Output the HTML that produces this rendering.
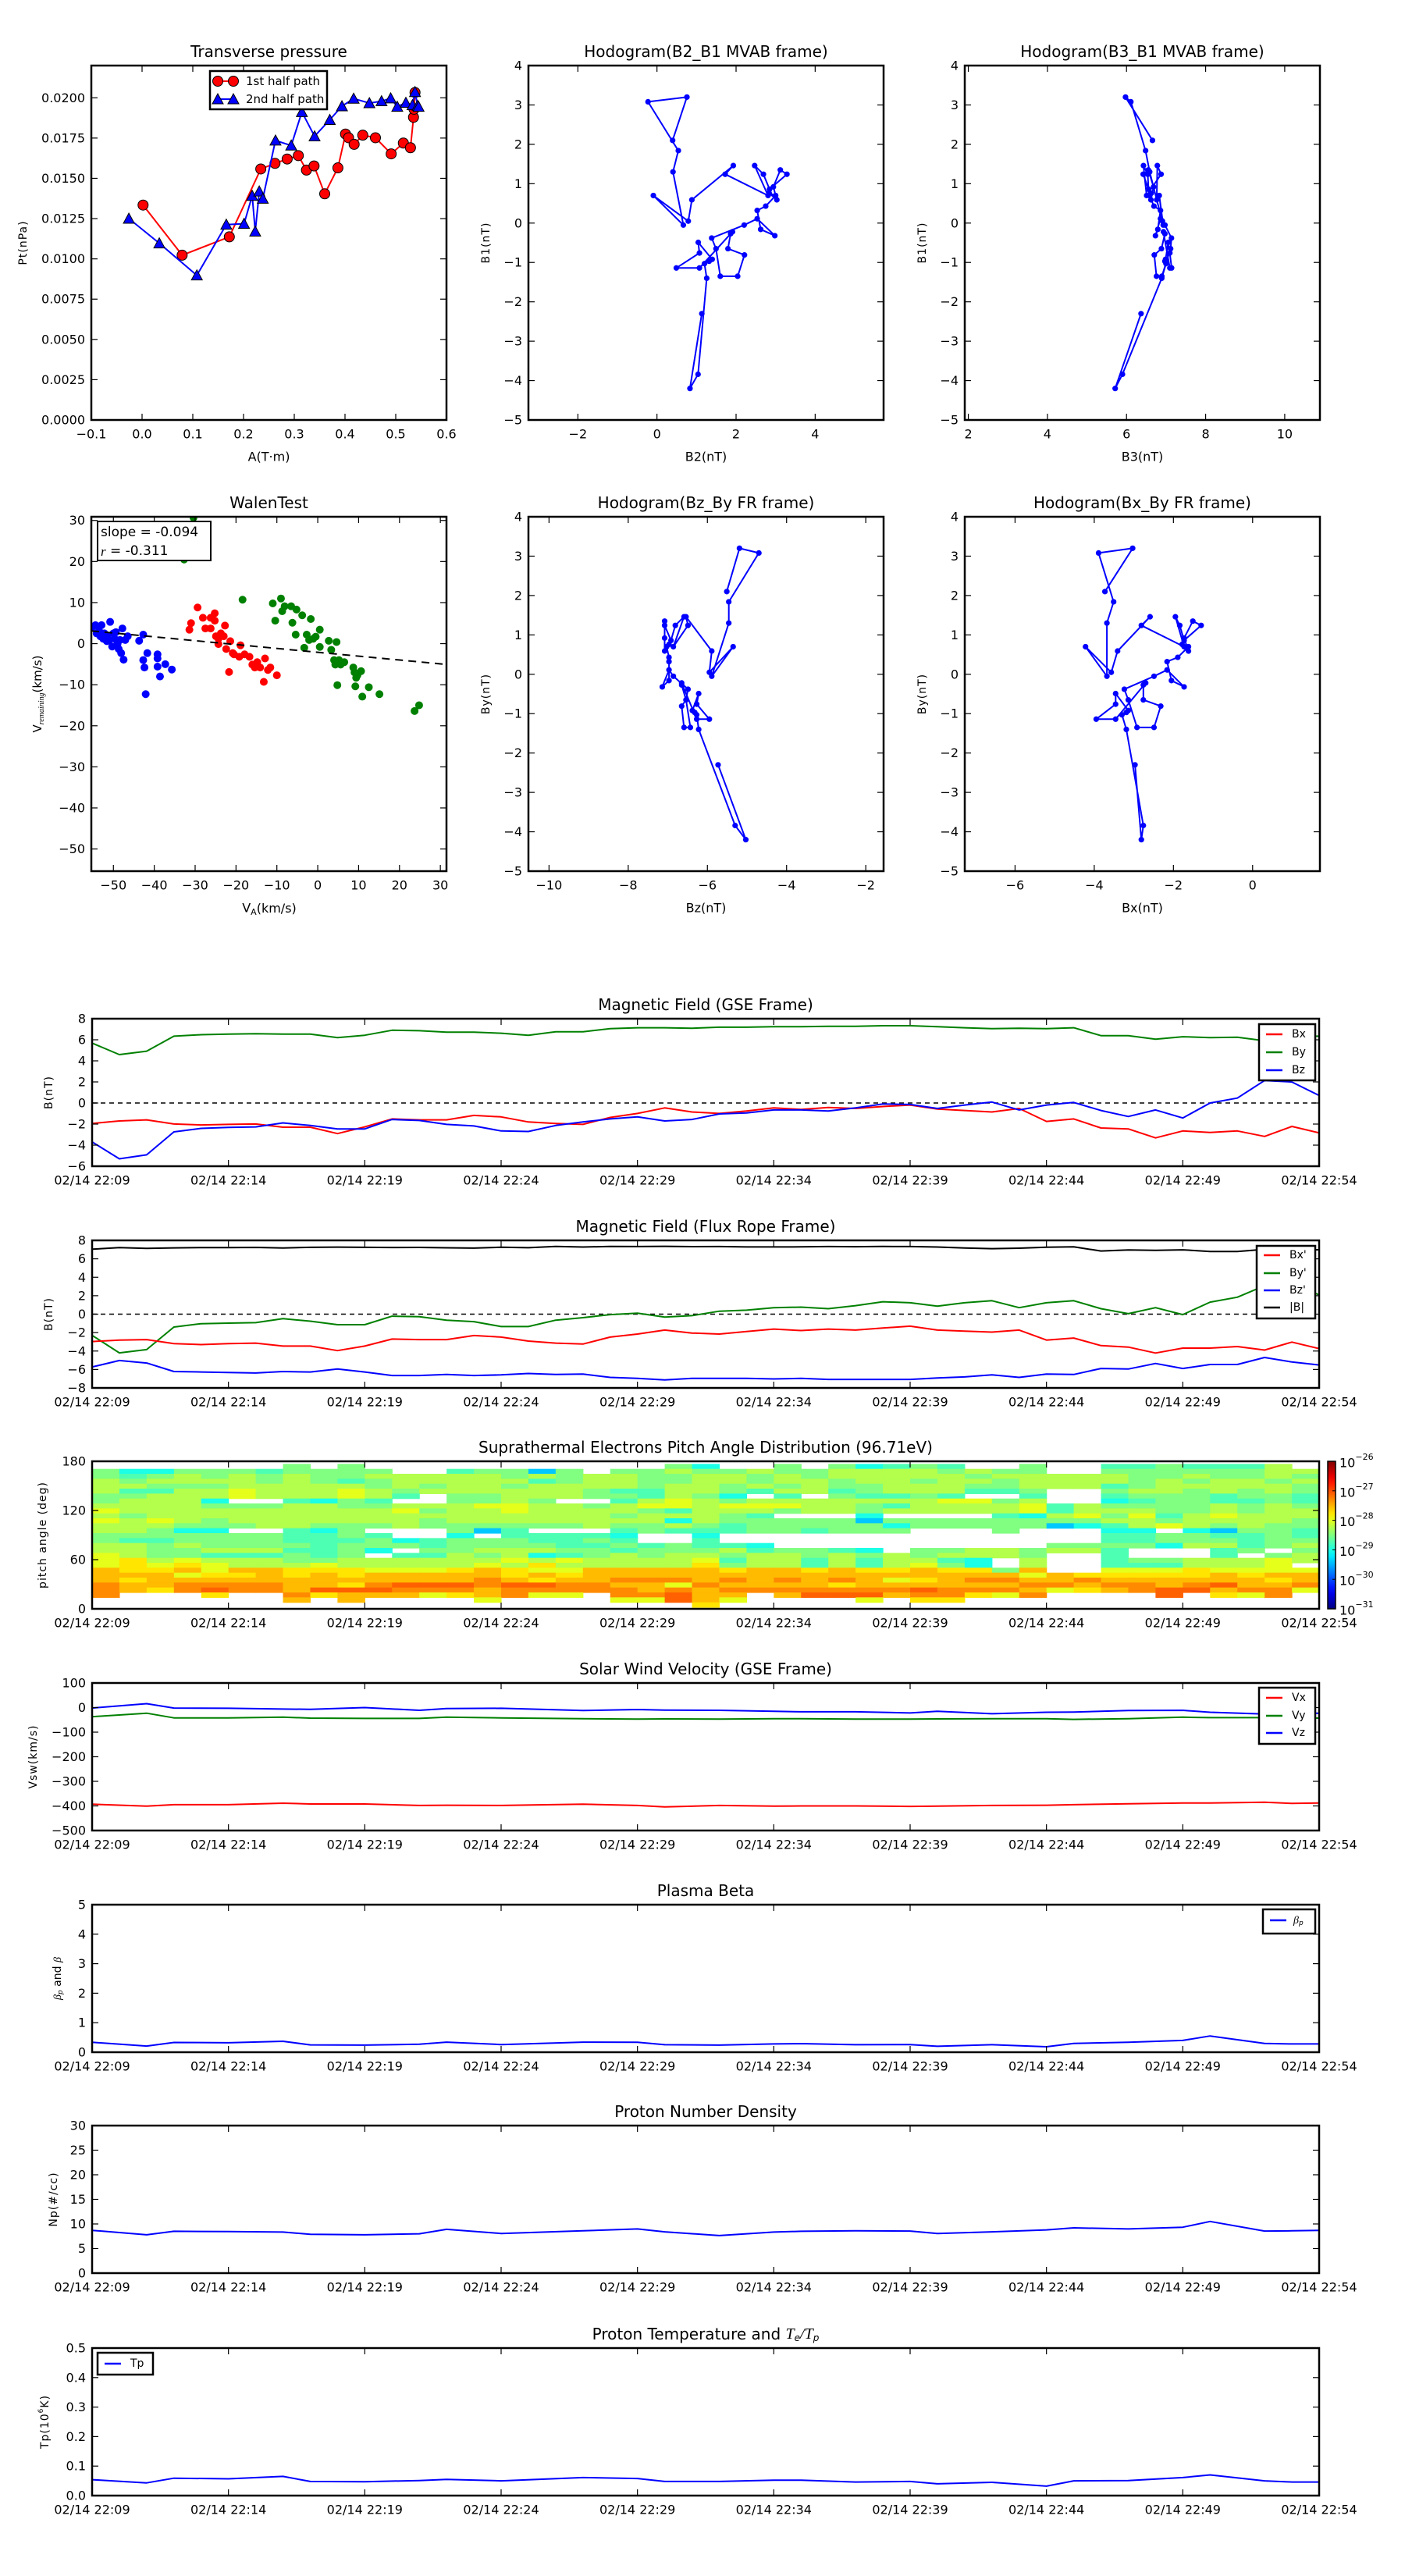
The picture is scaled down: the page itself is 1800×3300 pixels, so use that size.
<!DOCTYPE html>
<html><head><meta charset="utf-8">
<style>
html,body{margin:0;padding:0;background:#fff;}
svg{display:block;font-family:"DejaVu Sans","Liberation Sans",sans-serif;}
</style></head>
<body>
<svg id="fig" width="1800" height="3300" viewBox="0 0 1800 3300"><rect width="1800" height="3300" fill="#fff"/></svg>
<script>
// ---------- DATA ----------
// Transverse pressure
const tpRedA=[0.002,0.079,0.172,0.234,0.262,0.286,0.308,0.324,0.339,0.360,0.386,0.401,0.407,0.418,0.435,0.460,0.491,0.515,0.529,0.535,0.536,0.538];
const tpRedP=[0.01334,0.01023,0.01137,0.01558,0.01593,0.0162,0.01641,0.01551,0.01577,0.01404,0.01565,0.01775,0.01752,0.01711,0.01768,0.01752,0.01652,0.01719,0.0169,0.01879,0.01929,0.02033];
const tpBlueA=[-0.026,0.034,0.108,0.166,0.201,0.217,0.223,0.231,0.238,0.263,0.294,0.315,0.340,0.370,0.394,0.417,0.448,0.472,0.490,0.503,0.520,0.533,0.538,0.543,0.545];
const tpBlueP=[0.0125,0.01097,0.00898,0.01213,0.01218,0.01392,0.0117,0.01419,0.01374,0.01735,0.01704,0.01912,0.01761,0.01863,0.01948,0.01995,0.01967,0.01979,0.01997,0.01945,0.01969,0.01955,0.02036,0.01951,0.01945];
// GSE magnetic field, 1-min samples from 22:09
const gseBx=[-1.94,-1.7,-1.6,-1.99,-2.08,-2.03,-1.99,-2.3,-2.3,-2.9,-2.27,-1.51,-1.6,-1.6,-1.18,-1.32,-1.8,-1.94,-2.03,-1.37,-0.99,-0.47,-0.85,-0.99,-0.76,-0.47,-0.61,-0.43,-0.52,-0.33,-0.19,-0.57,-0.71,-0.85,-0.52,-1.75,-1.51,-2.37,-2.46,-3.31,-2.65,-2.79,-2.65,-3.17,-2.22,-2.84];
const gseBy=[5.68,4.59,4.92,6.34,6.48,6.53,6.58,6.53,6.53,6.2,6.43,6.9,6.86,6.72,6.72,6.62,6.43,6.76,6.76,7.05,7.14,7.14,7.1,7.19,7.19,7.24,7.24,7.28,7.28,7.33,7.33,7.24,7.14,7.05,7.1,7.05,7.14,6.39,6.39,6.05,6.29,6.2,6.24,5.9,6.3,6.34];
const gseBz=[-3.69,-5.3,-4.92,-2.74,-2.41,-2.32,-2.27,-1.89,-2.13,-2.46,-2.46,-1.56,-1.66,-2.03,-2.18,-2.65,-2.7,-2.13,-1.8,-1.51,-1.32,-1.7,-1.56,-1.04,-0.95,-0.66,-0.66,-0.76,-0.47,-0.09,-0.14,-0.52,-0.19,0.09,-0.66,-0.19,0.05,-0.71,-1.28,-0.66,-1.42,0,0.47,2.13,1.99,0.71];
// Flux rope frame
const frBx=[-2.97,-2.81,-2.76,-3.19,-3.3,-3.19,-3.14,-3.46,-3.46,-3.95,-3.46,-2.7,-2.76,-2.76,-2.32,-2.49,-2.92,-3.14,-3.24,-2.49,-2.16,-1.73,-2.05,-2.16,-1.89,-1.62,-1.78,-1.62,-1.73,-1.51,-1.3,-1.73,-1.84,-1.95,-1.73,-2.81,-2.59,-3.41,-3.57,-4.22,-3.68,-3.68,-3.51,-3.89,-3.03,-3.73];
const frBy=[-2.3,-4.2,-3.84,-1.4,-1.03,-0.97,-0.92,-0.49,-0.76,-1.14,-1.14,-0.22,-0.27,-0.65,-0.81,-1.35,-1.35,-0.65,-0.38,-0.05,0.11,-0.32,-0.16,0.32,0.43,0.7,0.76,0.59,0.92,1.35,1.24,0.86,1.24,1.46,0.7,1.24,1.46,0.59,0.05,0.7,-0.05,1.3,1.84,3.08,3.2,2.1];
const frBz=[-5.73,-5.03,-5.3,-6.22,-6.27,-6.32,-6.38,-6.22,-6.27,-5.95,-6.27,-6.65,-6.65,-6.54,-6.65,-6.59,-6.43,-6.54,-6.49,-6.86,-6.97,-7.14,-6.97,-6.97,-6.97,-7.03,-6.97,-7.08,-7.08,-7.08,-7.08,-6.92,-6.81,-6.59,-6.86,-6.49,-6.54,-5.89,-5.95,-5.35,-5.89,-5.46,-5.46,-4.7,-5.19,-5.51];
// MVAB rotation (B1 = By', (B2,B3) rotated from (Bx',Bz'))
const mvaCos=0.795, mvaSin=0.61;
// Walen test
const walBlueVA=[-54.4,-52.9,-55.1,-50.8,-53.5,-52.2,-51.6,-52.5,-51.0,-49.7,-50.3,-49.0,-47.8,-46.5,-47.1,-48.7,-48.1,-47.5,-43.7,-42.7,-41.7,-39.2,-42.7,-39.2,-42.4,-39.2,-37.3,-35.7,-38.6,-42.1,-54.1,-53.2,-51.6,-49.4,-48.4,-50.0];
const walBlueVR=[4.5,4.5,4.1,5.3,3.1,2.5,1.8,1.2,0.9,1.2,-0.7,-0.1,3.7,1.8,0.9,-1.3,-2.3,-3.9,0.7,2.2,-2.3,-2.6,-4.0,-3.6,-5.8,-5.6,-5.0,-6.3,-8.0,-12.3,2.5,1.8,0.6,2.8,0.9,2.5];
const walRedVA=[-29.4,-31.0,-31.4,-28.1,-26.2,-25.2,-25.2,-27.5,-26.2,-22.7,-24.9,-23.7,-23.0,-24.3,-21.4,-22.4,-18.9,-20.8,-19.2,-17.9,-16.7,-16.0,-14.8,-12.9,-14.1,-12.2,-11.6,-10.0,-21.7,-13.2,-24.3,-15.4,-20.5];
const walRedVR=[8.8,5.0,3.4,6.3,6.3,7.4,5.6,3.7,3.7,4.4,1.8,2.5,1.8,-0.1,0.6,-1.3,-0.4,-2.3,-3.2,-2.6,-3.2,-5.1,-4.5,-3.6,-5.8,-6.4,-5.8,-7.7,-6.9,-9.3,1.2,-5.8,-2.6];
const walGreenVA=[-30.4,-32.7,-18.4,-11.0,-9.0,-8.1,-6.5,-5.2,-8.7,-3.8,-1.7,-10.4,-6.2,0.5,-5.4,-2.7,-1.1,-0.5,-2.1,-3.3,0.5,2.7,4.6,3.3,4.0,5.2,6.5,4.3,5.6,8.7,10.6,9.0,9.4,9.7,4.8,9.2,12.5,10.9,15.1,24.8,23.7];
const walGreenVR=[30.7,20.5,10.7,9.8,11.0,9.1,9.1,8.3,7.9,6.9,6.0,5.6,5.1,3.4,2.2,2.2,1.2,1.7,0.9,-1.0,-0.8,0.7,0.4,-1.5,-4.0,-4.0,-4.5,-5.1,-5.1,-5.8,-6.7,-7.0,-8.3,-7.7,-10.1,-10.4,-10.6,-12.9,-12.3,-15.0,-16.4];
const walSlope=-0.094, walIntercept=-2.1, walR=-0.311;
// Time axis
const timeTickMinutes=[0,5,10,15,20,25,30,35,40,45];
const timeTickLabels=['02/14 22:09','02/14 22:14','02/14 22:19','02/14 22:24','02/14 22:29','02/14 22:34','02/14 22:39','02/14 22:44','02/14 22:49','02/14 22:54'];
// Plasma samples (minutes after 22:09)
const plasmaT=[0,2,3,5,7,8,10,12,13,15,18,20,21,23,25,26,28,30,31,33,35,36,38,40,41,43,44,45];
const swVx=[-393,-401,-395,-395,-389,-392,-392,-398,-397,-398,-393,-398,-404,-398,-401,-400,-400,-402,-401,-398,-397,-395,-391,-388,-388,-385,-390,-388];
const swVy=[-37,-23,-42,-42,-39,-43,-44,-44,-39,-42,-45,-47,-46,-47,-45,-45,-47,-47,-46,-45,-45,-48,-45,-39,-41,-41,-41,-43];
const swVz=[-2,16,-2,-3,-6,-7,0,-11,-4,-3,-12,-8,-10,-11,-15,-17,-17,-22,-15,-25,-19,-18,-12,-11,-19,-26,-23,-23];
const betaP=[0.335,0.21,0.33,0.32,0.37,0.25,0.24,0.27,0.34,0.26,0.34,0.335,0.255,0.24,0.28,0.29,0.255,0.26,0.2,0.255,0.185,0.3,0.335,0.4,0.55,0.3,0.28,0.28];
const protonN=[8.7,7.8,8.5,8.45,8.35,7.9,7.8,8.0,8.9,8.07,8.6,8.99,8.4,7.64,8.35,8.5,8.6,8.56,8.07,8.4,8.8,9.2,8.99,9.34,10.5,8.56,8.6,8.7];
const protonT=[0.054,0.043,0.059,0.057,0.065,0.048,0.047,0.051,0.055,0.05,0.061,0.058,0.048,0.048,0.052,0.052,0.046,0.048,0.04,0.045,0.032,0.05,0.051,0.061,0.07,0.05,0.046,0.046];
// Pitch angle distribution (log10 flux codes, one char per minute column, rows from high to low pitch angle)
const padTop=176.8, padBottom=1.9;
const padLevels={B:-29.4,C:-29.0,A:-28.75,G:-28.5,L:-28.25,K:-28.0,Y:-27.75,O:-27.54,R:-27.3,D:-27.1};
const padRows=[
"WWWWWWWGWGWWWWWWWWWWWGCWWGWGCAGAWWGWWAAGAAALW",
"GCCGGGAGGGGWWAGGBGWGGLGGLGGLLLLGLGGWWGGGGGGLL",
"GAGLGLGLGGLLLLLGLGLLGGLLGLGLLLLLGLLLLLGGLGGLG",
"LGLLLLGLGAGLLLLLAGLLGGLLGLLGLLGLLGLLLLGLGLLGL",
"LLGGGLLLLLGLGLLGLLLLGLLGLGLGGLLLGGLLLAGLLLLLG",
"LAALLKLLLKLGLLLLLLGAALLGALLAGLLLAAGWWGLLGLGLG",
"GGLLLKLLLKLAWGGLLLGGALGCWAWGAAGAWWAWWAGGGAGGA",
"GLLLCWWACGAWWGGLGWWALKLGLLLLLLLKKGLWWCAGGAAGA",
"LLLLGGGLLGGLLLKKLLGLKKLKKKLLGALLLLKALGGGGLGLG",
"KLLLLLLLLLLKGLLKLLLLGALLLGLLGLLLLLKALLLGGLGLL",
"LGLLLLLLLLLLLLLLLLLGLLLGAWWWCWWWWACLKGKALKLLL",
"KLKLGLLLLLLLGLLLLLLLLCLGGGGGBGGGGGGGGLLGLLLLG",
"LLLGGGLLGGGLGGGGGGLGGLGAGGGGGCGGGGGBCALKLGLGG",
"LLGCCWWACGWWWGBAWWWAGAAAGGAGGGWWWGWWWCCWCBGGA",
"GGGGGGGAAGAWWCWAAAACWWCWWWWWWWWWWWWWWAAGGAAGA",
"GAAGGGGAAAGCAGGGAAGAWWAWWWWWWWWWWWWWWAAGGGAGG",
"LLGLGGGGAGGGAGGGGAAGAGAACWWWWWWWWWWGGGGCLLAGL",
"LLGGLLLAAGCWGGLLLGGAGGGLAGGACWGGLLGLLAWWWAGWG",
"KLGGAAAGAGWAALGLCAGLGLLGLLGLGLGLLLGWWAWWWAWGL",
"KYLKLLLGGLLLLLLKLKLLLLKALLALALLACWLWWAGGLLLKL",
"KYKYKLLLKLLLLLKLYLLLLLYGLLALALKGCWLWWAAALLLKW",
"OYYOKOOYYYKKKYOYKKOOOOOYOOYOYYOYYGOWWKKKYKKKK",
"OOOKYYOYOYOOOOOYOYOOOOOOOOOOOOOOOOKOYYYYYOYOO",
"OYOOOOOOOOOOOOROYOORRROROROROKYORROOROOOOOOYO",
"ROORRRROOYRDDDRDDRROOKROOOOYOOOOOORRORRORDOOR",
"ROYRDRRODDDRRRORRRRRORORRRRRRRDRRROKYORDDORRK",
"RWWWYWWRYOOOKYORKKWRRDOOWODDDORRYKRWWWWDWYKRW",
"WWWWWWWOWOWWWWKWWWWKKDOKWWWWKWYYWWWWWWWWWWWWW",
"WWWWWWWWWWWWWWWWWWWWWWYWWWWWWWWWWWWWWWWWWWWWW"];
const cbarTicks=[-31,-30,-29,-28,-27,-26];

// ---------- HELPERS ----------
const NS='http://www.w3.org/2000/svg';
const fig=document.getElementById('fig');
function mk(tag,attrs,parent){const e=document.createElementNS(NS,tag);for(const k in attrs)e.setAttribute(k,attrs[k]);(parent||fig).appendChild(e);return e;}
function txt(parent,x,y,s,size,anchor,extra){const t=mk('text',Object.assign({x:x,y:y,'font-size':size,'text-anchor':anchor||'middle','dominant-baseline':'central',fill:'#000'},extra||{}),parent);t.textContent=s;return t;}
function fmt(v,d){return (v<0?'\u2212':'')+Math.abs(v).toFixed(d);}
function jet(f){const c=x=>Math.max(0,Math.min(1,x));const r=c(1.5-Math.abs(4*f-3)),g=c(1.5-Math.abs(4*f-2)),b=c(1.5-Math.abs(4*f-1));return 'rgb('+Math.round(r*255)+','+Math.round(g*255)+','+Math.round(b*255)+')';}
function makePanel(name,x0,y0,w,h,xr,yr){
  const g=mk('g',{});
  
  
  const cid='clip-'+name;
  const cp=mk('clipPath',{id:cid},g);
  mk('rect',{x:x0,y:y0,width:w,height:h},cp);
  const plot=mk('g',{'clip-path':'url(#'+cid+')'},g);
  
  
  return {name:name,g:g,plot:plot,x0:x0,y0:y0,w:w,h:h,
    sx:v=>x0+(v-xr[0])/(xr[1]-xr[0])*w, sy:v=>y0+h-(v-yr[0])/(yr[1]-yr[0])*h};
}
function frame(p){const r=mk('rect',{x:p.x0,y:p.y0,width:p.w,height:p.h,fill:'none',stroke:'#000','stroke-width':2.5},p.g);
  
  }
function xTicks(p,vals,labels){const tg=mk('g',{},p.g);
  
  
  vals.forEach((v,i)=>{const x=p.sx(v);
    mk('line',{x1:x,x2:x,y1:p.y0+p.h,y2:p.y0+p.h-8,stroke:'#000','stroke-width':1.2},tg);
    mk('line',{x1:x,x2:x,y1:p.y0,y2:p.y0+8,stroke:'#000','stroke-width':1.2},tg);
    const t=txt(tg,x,p.y0+p.h+18,labels[i],16);
    
    });}
function yTicks(p,vals,labels){const tg=mk('g',{},p.g);
  
  
  vals.forEach((v,i)=>{const y=p.sy(v);
    mk('line',{x1:p.x0,x2:p.x0+8,y1:y,y2:y,stroke:'#000','stroke-width':1.2},tg);
    mk('line',{x1:p.x0+p.w,x2:p.x0+p.w-8,y1:y,y2:y,stroke:'#000','stroke-width':1.2},tg);
    const t=txt(tg,p.x0-8,y,labels[i],16,'end');
    
    });}
function line(p,xs,ys,color,w,name,dash){const pts=xs.map((x,i)=>p.sx(x).toFixed(1)+','+p.sy(ys[i]).toFixed(1)).join(' ');
  const a={points:pts,fill:'none',stroke:color,'stroke-width':w,'stroke-linejoin':'round'};if(dash)a['stroke-dasharray']=dash;
  const l=mk('polyline',a,p.plot);
  
  return l;}
function dots(p,xs,ys,color,r,name,stroke){const g=mk('g',{},p.plot);
  
  
  xs.forEach((x,i)=>{const c=mk('circle',{cx:p.sx(x),cy:p.sy(ys[i]),r:r,fill:color,stroke:stroke||'none','stroke-width':1},g);
    
    });}
function tri(parent,x,y,s,color){return mk('polygon',{points:x+','+(y-s)+' '+(x-s)+','+(y+s*0.85)+' '+(x+s)+','+(y+s*0.85),fill:color,stroke:'#000','stroke-width':1},parent);}
function title(p,s,extraNodes){const t=txt(p.g,p.x0+p.w/2,p.y0-18,s,20);
  
  return t;}
function xlabel(p,s,y){const t=txt(p.g,p.x0+p.w/2,y,s,16);
  
  return t;}
function ylabel(p,s,x,size){const cy=p.y0+p.h/2;const t=txt(p.g,x,cy,s,size||14,'middle',{transform:'rotate(-90 '+x+' '+cy+')','letter-spacing':'1'});
  
  return t;}
function legend(p,x,y,w,h,entries){const g=mk('g',{},p.g);
  
  
  mk('rect',{x:x,y:y,width:w,height:h,fill:'#fff',stroke:'#000','stroke-width':2.5},g);
  entries.forEach(e=>{mk('line',{x1:x+9,x2:x+30,y1:e.y,y2:e.y,stroke:e.c,'stroke-width':2.5},g);
    const t=txt(g,x+42,e.y,e.s,14,'start');
    
    });return g;}
function range(a,b,s){const r=[];for(let v=a;v<=b+1e-9;v+=s)r.push(+v.toFixed(6));return r;}
const idx=gseBx.map((_,i)=>i);

// ---------- TOP ROW ----------
const W=455,TH=454;
// Transverse pressure
(function(){
  const p=makePanel('transverse-pressure',117,84,W,TH,[-0.1,0.6],[0,0.022]);
  line(p,tpRedA,tpRedP,'#f00',2,'first-half-line');
  dots(p,tpRedA,tpRedP,'#f00',6.5,'first-half',"#000");
  line(p,tpBlueA,tpBlueP,'#00f',2,'second-half-line');
  const tg=mk('g',{},p.plot);
  
  
  tpBlueA.forEach((a,i)=>{const m=tri(tg,p.sx(a),p.sy(tpBlueP[i]),7,'#00f');
    
    });
  frame(p);
  const xv=range(-0.1,0.6,0.1);xTicks(p,xv,xv.map(v=>fmt(v,1)));
  const yv=range(0,0.02,0.0025);yTicks(p,yv,yv.map(v=>v.toFixed(4)));
  title(p,'Transverse pressure');xlabel(p,'A(T\u00b7m)',585);ylabel(p,'Pt(nPa)',30);
  const lg=mk('g',{},p.g);
  
  
  mk('rect',{x:269,y:91,width:150,height:49,fill:'#fff',stroke:'#000','stroke-width':2.5},lg);
  mk('line',{x1:279,x2:299,y1:104,y2:104,stroke:'#f00','stroke-width':2},lg);
  mk('circle',{cx:279,cy:104,r:6.5,fill:'#f00',stroke:'#000'},lg);mk('circle',{cx:299,cy:104,r:6.5,fill:'#f00',stroke:'#000'},lg);
  mk('line',{x1:279,x2:299,y1:127,y2:127,stroke:'#00f','stroke-width':2},lg);
  tri(lg,279,127,7,'#00f');tri(lg,299,127,7,'#00f');
  const l1=txt(lg,315,104,'1st half path',15,'start');
  
  
  const l2=txt(lg,315,127,'2nd half path',15,'start');
  
  
})();
const mvaB1=frBy.slice();
const mvaB2=frBx.map((x,i)=>mvaCos*x-mvaSin*frBz[i]);
const mvaB3=frBx.map((x,i)=>-mvaSin*x-mvaCos*frBz[i]);
function hodo(name,x0,y0,xr,xs,ys,ttl,xl,yl,xtv,labelY){
  const p=makePanel(name,x0,y0,W,TH,xr,[-5,4]);
  line(p,xs,ys,'#00f',2,name+'-path');
  dots(p,xs,ys,'#00f',3.6,name+'-samples');
  frame(p);
  xTicks(p,xtv,xtv.map(v=>fmt(v,0)));
  const yv=range(-5,4,1);yTicks(p,yv,yv.map(v=>fmt(v,0)));
  title(p,ttl);xlabel(p,xl,labelY);ylabel(p,yl,x0-54);
}
hodo('hodogram-b2-b1',677,84,[-3.25,5.73],mvaB2,mvaB1,'Hodogram(B2_B1 MVAB frame)','B2(nT)','B1(nT)',[-2,0,2,4],585);
hodo('hodogram-b3-b1',1236,84,[1.91,10.89],mvaB3,mvaB1,'Hodogram(B3_B1 MVAB frame)','B3(nT)','B1(nT)',[2,4,6,8,10],585);
hodo('hodogram-bz-by',677,662,[-10.52,-1.55],frBz,frBy,'Hodogram(Bz_By FR frame)','Bz(nT)','By(nT)',[-10,-8,-6,-4,-2],1163);
hodo('hodogram-bx-by',1236,662,[-7.27,1.7],frBx,frBy,'Hodogram(Bx_By FR frame)','Bx(nT)','By(nT)',[-6,-4,-2,0],1163);

// Walen test
(function(){
  const p=makePanel('walen-test',117,662,W,TH+0,[-55.4,31.5],[-55.4,30.9]);
  dots(p,walBlueVA,walBlueVR,'#00f',5,'walen-blue');
  dots(p,walRedVA,walRedVR,'#f00',5,'walen-red');
  dots(p,walGreenVA,walGreenVR,'#008000',5,'walen-green');
  const fx=[-55.4,31.5];
  line(p,fx,fx.map(v=>walSlope*v+walIntercept),'#000',2,'walen-fit-line','10,7');
  frame(p);
  const xv=range(-50,30,10);xTicks(p,xv,xv.map(v=>fmt(v,0)));
  const yv=range(-50,30,10);yTicks(p,yv,yv.map(v=>fmt(v,0)));
  title(p,'WalenTest');
  const xl=txt(p.g,345,1163,'',16);
  
  
  xl.innerHTML='V<tspan font-size="11" dy="5">A</tspan><tspan dy="-5">(km/s)</tspan>';
  const yl=txt(p.g,48,889,'',15,'middle',{transform:'rotate(-90 48 889)'});
  
  
  yl.innerHTML='V<tspan font-size="10" font-style="italic" font-family="Liberation Serif,serif" dy="5">remaining</tspan><tspan dy="-5">(km/s)</tspan>';
  const bx=mk('g',{},p.g);
  
  
  mk('rect',{x:125,y:668,width:145,height:50,fill:'#fff',stroke:'#000','stroke-width':2},bx);
  txt(bx,129,682,'slope = '+walSlope.toFixed(3),17,'start');
  const rt=txt(bx,129,706,'',17,'start');
  rt.innerHTML='<tspan font-style="italic" font-family="Liberation Serif,serif">r</tspan> = '+walR.toFixed(3);
})();

// ---------- TIME SERIES ----------
const TX=118,TW=1572,TSH=189;
const tops=[1305,1589,1872,2156,2440,2723,3008];
function tsPanel(name,k,yr){return makePanel(name,TX,tops[k],TW,TSH,[0,45],yr);}
function tsAxes(p,yv,yl){frame(p);xTicks(p,timeTickMinutes,timeTickLabels);yTicks(p,yv,yl);}
function zeroLine(p){line(p,[0,45],[0,0],'#000',1.5,p.name+'-zero-line','6,5');}

// GSE
(function(){const p=tsPanel('magnetic-field-gse',0,[-6,8]);
  zeroLine(p);
  line(p,idx,gseBy,'#008000',2,'gse-by-line');
  line(p,idx,gseBx,'#f00',2,'gse-bx-line');
  line(p,idx,gseBz,'#00f',2,'gse-bz-line');
  const yv=range(-6,8,2);tsAxes(p,yv,yv.map(v=>fmt(v,0)));
  title(p,'Magnetic Field (GSE Frame)');ylabel(p,'B(nT)',63);
  legend(p,1613,1312,72,72,[{s:'Bx',c:'#f00',y:1325},{s:'By',c:'#008000',y:1348},{s:'Bz',c:'#00f',y:1371}]);
})();
// FR
(function(){const p=tsPanel('magnetic-field-flux-rope',1,[-8,8]);
  const bmag=gseBx.map((x,i)=>Math.sqrt(x*x+gseBy[i]*gseBy[i]+gseBz[i]*gseBz[i]));
  zeroLine(p);
  line(p,idx,bmag,'#000',2,'fr-bmag-line');
  line(p,idx,frBy,'#008000',2,'fr-by-line');
  line(p,idx,frBx,'#f00',2,'fr-bx-line');
  line(p,idx,frBz,'#00f',2,'fr-bz-line');
  const yv=range(-8,8,2);tsAxes(p,yv,yv.map(v=>fmt(v,0)));
  title(p,'Magnetic Field (Flux Rope Frame)');ylabel(p,'B(nT)',63);
  legend(p,1610,1596,75,93,[{s:"Bx'",c:'#f00',y:1608},{s:"By'",c:'#008000',y:1631},{s:"Bz'",c:'#00f',y:1653},{s:'|B|',c:'#000',y:1675}]);
})();
// PAD
(function(){const p=tsPanel('pitch-angle-distribution',2,[0,180]);
  const rh=(padTop-padBottom)/padRows.length;
  const cg=mk('g',{},p.plot);
  
  
  padRows.forEach((row,r)=>{for(let c=0;c<Math.min(row.length,45);c++){const ch=row[c];if(!(ch in padLevels))continue;
    const lv=padLevels[ch];const hi=padTop-r*rh, lo=hi-rh;
    const x1=p.sx(c),x2=p.sx(c+1),y1=p.sy(hi),y2=p.sy(lo);
    const cell=mk('rect',{x:x1,y:y1,width:x2-x1+0.6,height:y2-y1+0.6,fill:jet((lv+31)/5)},cg);
    
    }});
  tsAxes(p,[0,60,120,180],['0','60','120','180']);
  title(p,'Suprathermal Electrons Pitch Angle Distribution (96.71eV)');ylabel(p,'pitch angle (deg)',55);
  // colorbar
  const cb=mk('g',{},p.g);
  
  
  const gr=mk('linearGradient',{id:'jetgrad',x1:0,y1:1,x2:0,y2:0},cb);
  for(let i=0;i<=20;i++)mk('stop',{offset:i/20,'stop-color':jet(i/20)},gr);
  const cy0=p.y0,ch=p.h;
  mk('rect',{x:1701,y:cy0,width:10,height:ch,fill:'url(#jetgrad)',stroke:'#000','stroke-width':1.5},cb);
  cbarTicks.forEach(v=>{const y=cy0+ch-(v+31)/5*ch;
    mk('line',{x1:1707,x2:1711,y1:y,y2:y,stroke:'#000'},cb);
    const t=txt(cb,1716,y+2,'',16,'start');
    
    
    t.innerHTML='10<tspan font-size="11" dy="-8">\u2212'+Math.abs(v)+'</tspan>';});
})();
// SW velocity
(function(){const p=tsPanel('solar-wind-velocity',3,[-500,100]);
  line(p,plasmaT,swVx,'#f00',2,'vx-line');
  line(p,plasmaT,swVy,'#008000',2,'vy-line');
  line(p,plasmaT,swVz,'#00f',2,'vz-line');
  const yv=range(-500,100,100);tsAxes(p,yv,yv.map(v=>fmt(v,0)));
  title(p,'Solar Wind Velocity (GSE Frame)');ylabel(p,'Vsw(km/s)',43);
  legend(p,1613,2162,72,72,[{s:'Vx',c:'#f00',y:2175},{s:'Vy',c:'#008000',y:2198},{s:'Vz',c:'#00f',y:2220}]);
})();
// Beta
(function(){const p=tsPanel('plasma-beta',4,[0,5]);
  line(p,plasmaT,betaP,'#00f',2,'beta-p-line');
  const yv=range(0,5,1);tsAxes(p,yv,yv.map(v=>fmt(v,0)));
  title(p,'Plasma Beta');
  const cy=p.y0+p.h/2;
  const yl=txt(p.g,74,cy,'',14,'middle',{transform:'rotate(-90 74 '+cy+')'});
  
  
  yl.innerHTML='<tspan font-style="italic" font-family="Liberation Serif,serif">\u03b2</tspan><tspan font-size="9" font-style="italic" dy="4">p</tspan><tspan dy="-4"> and </tspan><tspan font-style="italic" font-family="Liberation Serif,serif">\u03b2</tspan>';
  const lg=legend(p,1618,2446,67,31,[{s:'',c:'#00f',y:2460}]);
  const lt=txt(lg,1657,2460,'',14,'start');
  
  
  lt.innerHTML='<tspan font-style="italic" font-family="Liberation Serif,serif">\u03b2</tspan><tspan font-size="9" font-style="italic" dy="4">p</tspan>';
})();
// Density
(function(){const p=tsPanel('proton-number-density',5,[0,30]);
  line(p,plasmaT,protonN,'#00f',2,'density-line');
  const yv=range(0,30,5);tsAxes(p,yv,yv.map(v=>fmt(v,0)));
  title(p,'Proton Number Density');ylabel(p,'Np(#/cc)',69);
})();
// Temperature
(function(){const p=tsPanel('proton-temperature',6,[0,0.5]);
  line(p,plasmaT,protonT,'#00f',2,'tp-line');
  const yv=range(0,0.5,0.1);tsAxes(p,yv,yv.map(v=>v.toFixed(1)));
  const t=title(p,'');
  t.innerHTML='Proton Temperature and <tspan font-style="italic" font-family="Liberation Serif,serif">T</tspan><tspan font-size="12" font-style="italic" dy="5">e</tspan><tspan dy="-5" font-style="italic" font-family="Liberation Serif,serif">/T</tspan><tspan font-size="12" font-style="italic" dy="5">p</tspan>';
  const cy=p.y0+p.h/2;
  const yl=txt(p.g,58,cy,'',14,'middle',{transform:'rotate(-90 58 '+cy+')','letter-spacing':'1'});
  
  
  yl.innerHTML='Tp(10<tspan font-size="9" dy="-5">6</tspan><tspan dy="5">K)</tspan>';
  legend(p,125,3014,71,28,[{s:'Tp',c:'#00f',y:3028}]);
})();
</script>
</body></html>
